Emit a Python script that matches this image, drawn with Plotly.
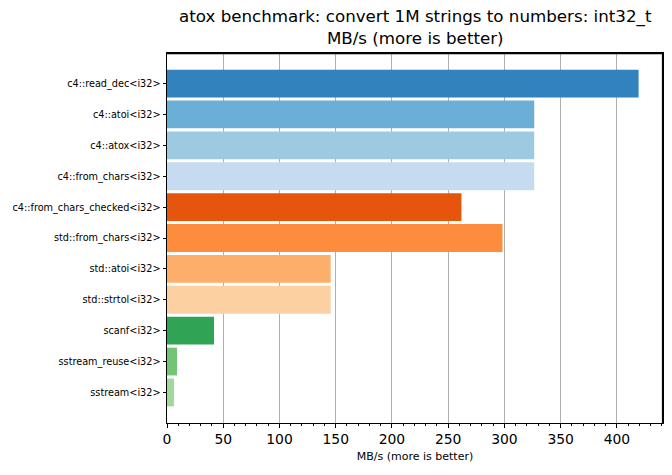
import plotly.graph_objects as go

categories = [
    "c4::read_dec<i32>", "c4::atoi<i32>", "c4::atox<i32>", "c4::from_chars<i32>",
    "c4::from_chars_checked<i32>", "std::from_chars<i32>", "std::atoi<i32>",
    "std::strtol<i32>", "scanf<i32>", "sstream_reuse<i32>", "sstream<i32>",
]
values = [419.3, 326.5, 326.5, 326.5, 261.8, 298.3, 145.5, 145.5, 41.8, 8.9, 6.2]
colors = ["#3182bd", "#6baed6", "#9ecae1", "#c6dbef", "#e6550d", "#fd8d3c",
          "#fdae6b", "#fdd0a2", "#31a354", "#74c476", "#a1d99b"]
x_ticks = [0, 50, 100, 150, 200, 250, 300, 350, 400]

font = "DejaVu Sans"

fig = go.Figure(go.Bar(
    x=values, y=categories, orientation="h", width=0.9,
    marker=dict(color=colors, line=dict(width=0)),
))

fig.update_layout(
    template="none",
    width=672, height=475,
    margin=dict(l=167, r=9, t=53, b=52, autoexpand=False),
    plot_bgcolor="white", paper_bgcolor="white",
    font=dict(family=font, color="black"),
    showlegend=False,
    annotations=[
        dict(text="atox benchmark: convert 1M strings to numbers: int32_t<br>MB/s (more is better)",
             xref="paper", yref="paper", x=0.5, y=1, yshift=3, xanchor="center", yanchor="bottom",
             showarrow=False, font=dict(size=16.7, family=font, color="black")),
    ],
    shapes=[
        dict(type="line", xref="x domain", yref="y domain", x0=0, x1=1, y0=0.9985, y1=0.9985,
             line=dict(color="black", width=1.2), layer="above"),
        dict(type="line", xref="x domain", yref="y domain", x0=0.999, x1=0.999, y0=0, y1=1,
             line=dict(color="black", width=1.2), layer="above"),
    ],
)

fig.update_xaxes(
    automargin=False,
    range=[0, 441], tickvals=x_ticks, ticktext=[str(v) for v in x_ticks],
    showgrid=True, gridcolor="#b0b0b0", gridwidth=0.8,
    ticks="outside", ticklen=3.5, tickwidth=0.8, tickcolor="black",
    minor=dict(dtick=10, ticks="outside", ticklen=2, tickwidth=0.6, tickcolor="black", showgrid=False),
    showline=True, linecolor="black", linewidth=1, mirror=True,
    zeroline=False, layer="above traces",
    tickfont=dict(size=13.9, family=font),
    title=dict(text="MB/s (more is better)", font=dict(size=11, family=font), standoff=6),
)
fig.update_yaxes(
    automargin=False,
    type="category", categoryorder="array", categoryarray=categories,
    range=[10.99, -0.99],
    showgrid=False, ticks="outside", ticklen=3.5, tickwidth=0.8, tickcolor="black",
    showline=True, linecolor="black", linewidth=1, mirror=True,
    tickfont=dict(size=9.7, family=font),
)

fig.write_html("out.html", config={"displayModeBar": False},
               post_script="document.body.style.margin='0';")
